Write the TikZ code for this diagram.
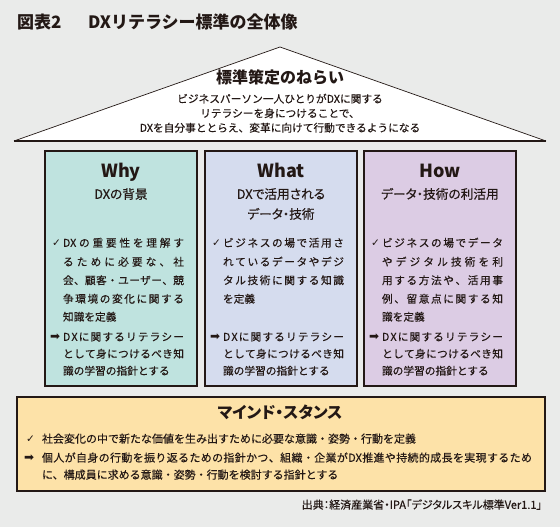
\documentclass[tikz,border=0pt]{standalone}
\usepackage{fontspec}
\setmainfont{Noto Sans CJK JP}
\newfontfamily\bodyfont[FakeBold=0.3]{Noto Sans CJK JP}
\newfontfamily\pfont[RawFeature=+palt]{Noto Sans CJK JP}
\newfontfamily\pbodyfont[RawFeature=+palt,FakeBold=0.3]{Noto Sans CJK JP}
\newfontfamily\sym{DejaVu Sans}
\definecolor{bg}{HTML}{EAEBEA}
\definecolor{ink}{HTML}{231815}
\definecolor{whyc}{HTML}{BFE3DF}
\definecolor{whatc}{HTML}{D5DCEE}
\definecolor{howc}{HTML}{DCCCE4}
\definecolor{mindc}{HTML}{FDE2A8}
\newcommand\jsp[2]{\makebox[#1][s]{\jspA#2\jspEnd}}
\def\jspA#1#2\jspEnd{#1\if\relax\detokenize{#2}\relax\else\hfill\jspA#2\jspEnd\fi}
\tikzset{
  base/.style={inner sep=0pt, outer sep=0pt, text=ink, text height=.88em, text depth=.12em},
  body/.style={base, anchor=west, font=\bodyfont\fontsize{10.7}{12}\selectfont},
  bodyc/.style={base, font=\bodyfont\fontsize{10.7}{12}\selectfont},
  bodyb/.style={base, anchor=west, font=\bodyfont\fontsize{11}{12}\selectfont},
  symck/.style={inner sep=0pt, outer sep=0pt, anchor=west, text=ink, font=\sym\fontsize{10.5}{11}\selectfont},
  symar/.style={inner sep=0pt, outer sep=0pt, anchor=west, text=ink, font=\sym\fontsize{12}{12}\selectfont},
  head/.style={base, font=\bfseries\fontsize{16}{18}\selectfont},
  wh/.style={base, font=\bfseries\fontsize{18}{20}\selectfont},
  sub/.style={base, font=\pbodyfont\fontsize{12.7}{14}\selectfont},
  panel/.style={draw=ink, line width=1.1pt},
}
\begin{document}
\begin{tikzpicture}[x=1pt,y=-1pt]
\useasboundingbox (0,0) rectangle (560,527);
\fill[bg] (0,0) rectangle (560,527);
% title
\node[base, anchor=west, font=\bfseries\fontsize{17}{19}\selectfont] (fig) at (17,25) {図表2};
\node[base, anchor=west, font=\bfseries\fontsize{17}{19}\selectfont] (title) at (88,25) {DXリテラシー標準の全体像};
% roof
\fill[white] (14,141) -- (280,47) -- (546,141) -- cycle;
\draw[ink, line width=0.7pt] (14,141) -- (280,47) -- (546,141);
\draw[ink, line width=1.1pt] (14,141) -- (546,141);
\node[head] (aim) at (280,80) {標準策定のねらい};
\node[bodyc] (aim1) at (280,99) {ビジネスパーソン一人ひとりがDXに関する};
\node[bodyc] (aim2) at (280,113.5) {リテラシーを身につけることで、};
\node[bodyc] (aim3) at (280,128) {DXを自分事ととらえ、変革に向けて行動できるようになる};
% panels
\filldraw[panel, fill=whyc] (45,151) rectangle (197,386);
\filldraw[panel, fill=whatc] (205,151) rectangle (357,386);
\filldraw[panel, fill=howc] (364,151) rectangle (516,386);
% Why
\node[wh] (why) at (121,174) {Why};
\node[sub] (whys) at (121,195) {DXの背景};
\node[symck] (whyk) at (52,243) {✓};
\node[body] (why1) at (63,243) {\jsp{121pt}{{DX}の重要性を理解す}};
\node[body] (why2) at (63,262) {\jsp{121pt}{るために必要な、社}};
\node[body] (why3) at (63,280.5) {\jsp{121pt}{会、顧客・ユーザー、競}};
\node[body] (why4) at (63,299) {\jsp{121pt}{争環境の変化に関する}};
\node[body] (why5) at (63,317) {知識を定義};
\node[symar] (whya) at (50,337) {➡};
\node[body] (why6) at (63,337) {\jsp{121pt}{{D}{X}に関するリテラシー}};
\node[body] (why7) at (63,354) {\jsp{121pt}{として身につけるべき知}};
\node[body] (why8) at (63,371) {識の学習の指針とする};
% What
\node[wh] (what) at (281,174) {What};
\node[sub] (whats1) at (281,195) {DXで活用される};
\node[sub] (whats2) at (281,215) {データ・技術};
\node[symck] (whatk) at (212,243) {✓};
\node[body] (what1) at (223,243) {\jsp{121pt}{ビジネスの場で活用さ}};
\node[body] (what2) at (223,262) {\jsp{121pt}{れているデータやデジ}};
\node[body] (what3) at (223,280.5) {\jsp{121pt}{タル技術に関する知識}};
\node[body] (what4) at (223,299) {を定義};
\node[symar] (whata) at (210,337) {➡};
\node[body] (what6) at (223,337) {\jsp{121pt}{{D}{X}に関するリテラシー}};
\node[body] (what7) at (223,354) {\jsp{121pt}{として身につけるべき知}};
\node[body] (what8) at (223,371) {識の学習の指針とする};
% How
\node[wh] (how) at (440,174) {How};
\node[sub] (hows) at (440,195) {データ・技術の利活用};
\node[symck] (howk) at (371,243) {✓};
\node[body] (how1) at (382,243) {\jsp{121pt}{ビジネスの場でデータ}};
\node[body] (how2) at (382,262) {\jsp{121pt}{やデジタル技術を利}};
\node[body] (how3) at (382,280.5) {\jsp{121pt}{用する方法や、活用事}};
\node[body] (how4) at (382,299) {\jsp{121pt}{例、留意点に関する知}};
\node[body] (how5) at (382,317) {識を定義};
\node[symar] (howa) at (369,337) {➡};
\node[body] (how6) at (382,337) {\jsp{121pt}{{D}{X}に関するリテラシー}};
\node[body] (how7) at (382,354) {\jsp{121pt}{として身につけるべき知}};
\node[body] (how8) at (382,371) {識の学習の指針とする};
% Mind
\filldraw[panel, fill=mindc] (17,397) rectangle (545,491);
\node[base, font=\pfont\bfseries\fontsize{16}{17}\selectfont] (mind) at (280,415) {マインド・スタンス};
\node[symck] (mindk) at (26,439) {✓};
\node[bodyb] (mind1) at (42,439) {社会変化の中で新たな価値を生み出すために必要な意識・姿勢・行動を定義};
\node[symar] (minda) at (24,458) {➡};
\node[bodyb] (mind2) at (42,458) {\jsp{490pt}{個人が自身の行動を振り返るための指針かつ、組織・企業が{DX}推進や持続的成長を実現するため}};
\node[bodyb] (mind3) at (42,475) {に、構成員に求める意識・姿勢・行動を検討する指針とする};
% source
\node[base, anchor=east, font=\pbodyfont\fontsize{11}{12}\selectfont] (src) at (542,505) {出典：経済産業省・IPA「デジタルスキル標準Ver1.1」};
\end{tikzpicture}
\end{document}
